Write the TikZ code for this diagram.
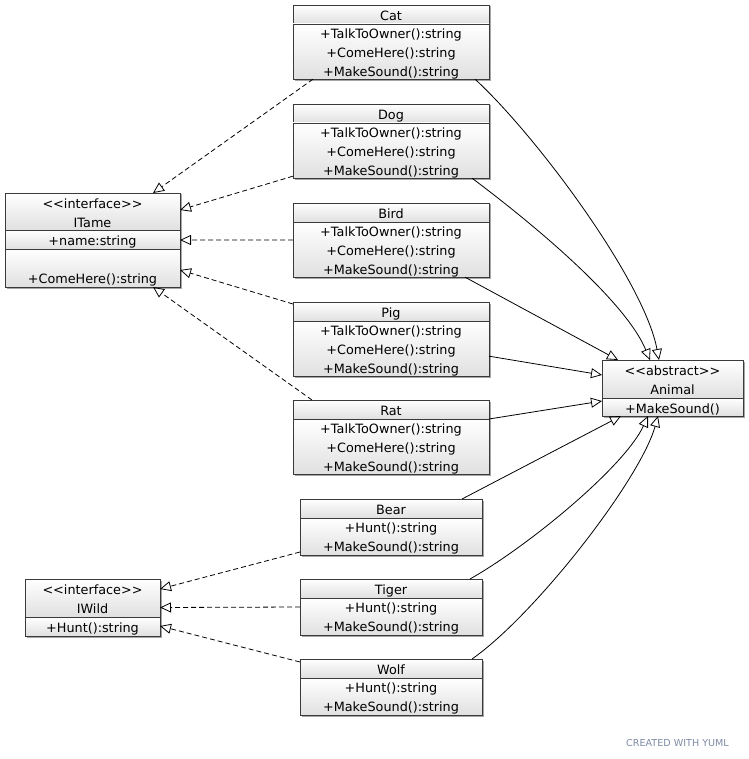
\documentclass[tikz,border=0pt]{standalone}
\usepackage{fontspec}
\setmainfont{DejaVu Sans}
\usetikzlibrary{arrows.meta,shadows,fit}
\definecolor{bd}{HTML}{3A3A3A}
\definecolor{gbot}{HTML}{E0E0E0}
\definecolor{yuml}{HTML}{7D8BA3}
\newcommand\fs{\rule{0pt}{14.5pt}}
\newcommand\ls{\rule[-2.5pt]{0pt}{0pt}}
\tikzset{
  cmp/.style={draw=bd, line width=0.9pt, top color=white, bottom color=gbot,
    inner sep=0pt, outer sep=0pt, anchor=north west, align=center,
    font=\fontsize{12.8}{19}\selectfont,
    drop shadow={shadow xshift=1.5pt, shadow yshift=-1.5pt, opacity=0.35, fill=black}},
  whole/.style={inner sep=0pt, outer sep=0pt, draw=none, fill=none},
  real/.style={-{Triangle[open,length=11pt,width=10pt]}, line width=0.8pt, dash pattern=on 5pt off 3pt},
  inh/.style={-{Triangle[open,length=11pt,width=10pt]}, line width=0.8pt},
  credit/.style={text=yuml, font=\fontsize{9.6}{11}\selectfont, inner sep=0pt}
}
\newcommand\classbox[8]{%
  \node[cmp, minimum width=#4, minimum height=#5] (#1-h) at (#2,-#3) {\fs #7\ls};
  \node[cmp, minimum width=#4, minimum height=#6] (#1-b) at (#1-h.south west) {\fs #8\ls};
  \node[whole, fit=(#1-h)(#1-b)] (#1) {};
}
\newcommand\pets{+TalkToOwner():string\\+ComeHere():string\\+MakeSound():string}
\newcommand\wilds{+Hunt():string\\+MakeSound():string}
\begin{document}
\begin{tikzpicture}[x=1pt,y=1pt]
\useasboundingbox (0,0) rectangle (748,-759);

\classbox{Cat}{293}{5}{196}{19}{55}{Cat}{\pets}
\classbox{Dog}{293}{104}{196}{19}{55}{Dog}{\pets}
\classbox{Bird}{293}{203}{196}{19}{55}{Bird}{\pets}
\classbox{Pig}{293}{302}{196}{19}{55}{Pig}{\pets}
\classbox{Rat}{293}{400}{196}{19}{55}{Rat}{\pets}
\classbox{Bear}{300}{499}{182}{19}{37}{Bear}{\wilds}
\classbox{Tiger}{300}{579}{182}{19}{37}{Tiger}{\wilds}
\classbox{Wolf}{300}{659}{182}{19}{37}{Wolf}{\wilds}

% ITame
\node[cmp, minimum width=175, minimum height=37] (ITame-h) at (5,-193) {\fs<\kern0pt<interface>\kern0pt>\\ITame\ls};
\node[cmp, minimum width=175, minimum height=19] (ITame-n) at (ITame-h.south west) {\fs+name:string\ls};
\node[cmp, minimum width=175, minimum height=38] (ITame-b) at (ITame-n.south west) {\fs\\+ComeHere():string\ls};
\node[whole, fit=(ITame-h)(ITame-b)] (ITame) {};

% IWild
\classbox{IWild}{25}{579}{135}{38}{19}{<\kern0pt<interface>\kern0pt>\\IWild}{+Hunt():string}

% Animal
\classbox{Animal}{602}{360}{141}{38}{18}{<\kern0pt<abstract>\kern0pt>\\Animal}{+MakeSound()}

% realizations to ITame
\draw[real] ([xshift=20pt]Cat.south west) -- ([xshift=148pt]ITame.north west);
\draw[real] ([yshift=2pt]Dog.south west) -- ([yshift=-17pt]ITame.north east);
\draw[real] (Bird.west) -- (ITame.east);
\draw[real] ([yshift=-2pt]Pig.north west) -- ([yshift=17pt]ITame.south east);
\draw[real] ([xshift=19pt]Rat.north west) -- ([xshift=148pt]ITame.south west);

% realizations to IWild
\draw[real] ([yshift=3pt]Bear.south west) -- ([yshift=-10pt]IWild.north east);
\draw[real] (Tiger.west) -- (IWild.east);
\draw[real] ([yshift=-3pt]Wolf.north west) -- ([yshift=10pt]IWild.south east);

% inheritance to Animal
\draw[inh] ([xshift=-14pt]Cat.south east) .. controls +(60,-55) and +(-15,80) .. ([xshift=57pt]Animal.north west);
\draw[inh] ([xshift=-17pt]Dog.south east) .. controls +(60,-45) and +(-25,60) .. ([xshift=48pt]Animal.north west);
\draw[inh] ([xshift=-24pt]Bird.south east) -- ([xshift=16pt]Animal.north west);
\draw[inh] ([yshift=20pt]Pig.south east) -- ([yshift=-15pt]Animal.north west);
\draw[inh] ([yshift=-19pt]Rat.north east) -- ([yshift=15pt]Animal.south west);
\draw[inh] ([xshift=-20pt]Bear.north east) -- ([xshift=19pt]Animal.south west);
\draw[inh] ([xshift=-12pt]Tiger.north east) .. controls +(60,34) and +(-23,-50) .. ([xshift=46pt]Animal.south west);
\draw[inh] ([xshift=-10pt]Wolf.north east) .. controls +(63,44) and +(-18,-64) .. ([xshift=56pt]Animal.south west);

\node[credit, anchor=west] (credit) at (626,-743) {CREATED WITH YUML};
\end{tikzpicture}
\end{document}
